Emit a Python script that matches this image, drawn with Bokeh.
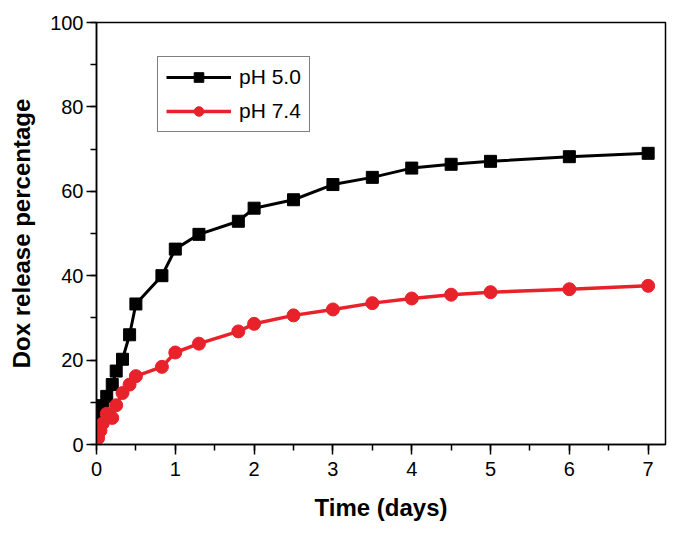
from bokeh.plotting import figure
from bokeh.models import Range1d, SingleIntervalTicker, Legend, LegendItem
from bokeh.embed import file_html
from bokeh.resources import INLINE

# Data
t_ph50 = [0.02, 0.08, 0.13, 0.2, 0.25, 0.33, 0.42, 0.5, 0.83, 1.0, 1.3, 1.8, 2.0, 2.5, 3.0, 3.5, 4.0, 4.5, 5.0, 6.0, 7.0]
y_ph50 = [7.4, 9.2, 11.4, 14.2, 17.4, 20.2, 26.0, 33.3, 40.0, 46.3, 49.8, 52.9, 56.0, 58.0, 61.6, 63.3, 65.5, 66.4, 67.1, 68.2, 69.0]
t_ph74 = [0.02, 0.05, 0.08, 0.13, 0.2, 0.25, 0.33, 0.42, 0.5, 0.83, 1.0, 1.3, 1.8, 2.0, 2.5, 3.0, 3.5, 4.0, 4.5, 5.0, 6.0, 7.0]
y_ph74 = [1.5, 3.3, 5.0, 7.3, 6.3, 9.3, 12.2, 14.2, 16.2, 18.4, 21.8, 23.9, 26.8, 28.6, 30.6, 32.0, 33.5, 34.6, 35.5, 36.1, 36.8, 37.6]
labels = ["pH 5.0", "pH 7.4"]

FONT = "Liberation Sans"
RED = "#e8222b"

p = figure(width=670, height=527, output_backend="svg", toolbar_location=None,
           x_range=Range1d(0, 7.22), y_range=Range1d(0, 100),
           min_border_left=96, min_border_right=5, min_border_top=22, min_border_bottom=83)

p.grid.visible = False
p.outline_line_color = "black"
p.outline_line_width = 1.5
p.background_fill_color = "white"
p.border_fill_color = "white"

p.xaxis.ticker = SingleIntervalTicker(interval=1, num_minor_ticks=2)
p.yaxis.ticker = SingleIntervalTicker(interval=20, num_minor_ticks=2)

for ax in (p.xaxis, p.yaxis):
    ax.axis_line_color = "black"
    ax.axis_line_width = 1.5
    ax.major_tick_line_color = "black"
    ax.major_tick_line_width = 1.5
    ax.minor_tick_line_color = "black"
    ax.minor_tick_line_width = 1.5
    ax.major_tick_in = 0
    ax.major_tick_out = 10
    ax.minor_tick_in = 0
    ax.minor_tick_out = 6
    ax.major_label_text_font = FONT
    ax.major_label_text_font_size = "20px"
    ax.major_label_text_color = "black"
    ax.axis_label_text_font = FONT
    ax.axis_label_text_font_size = "24px"
    ax.axis_label_text_font_style = "bold"
    ax.axis_label_text_color = "black"

p.xaxis.axis_label = "Time (days)"
p.yaxis.axis_label = "Dox release percentage"
p.xaxis.major_label_standoff = 7
p.yaxis.major_label_standoff = 3
p.xaxis.axis_label_standoff = 15
p.yaxis.axis_label_standoff = 12

l1 = p.line(t_ph50, y_ph50, line_color="black", line_width=3)
s1 = p.scatter(t_ph50, y_ph50, marker="square", size=12, fill_color="black", line_color="black")
l2 = p.line(t_ph74, y_ph74, line_color=RED, line_width=3.5)
s2 = p.scatter(t_ph74, y_ph74, marker="circle", size=13, fill_color=RED, line_color=RED)

legend = Legend(items=[LegendItem(label=labels[0], renderers=[l1, s1]),
                       LegendItem(label=labels[1], renderers=[l2, s2])],
                location=(61, 312))
legend.border_line_color = "black"
legend.border_line_width = 1.5
legend.background_fill_alpha = 1
legend.label_text_font = FONT
legend.label_text_font_size = "21px"
legend.label_text_color = "black"
legend.glyph_width = 65
legend.glyph_height = 24
legend.label_height = 24
legend.spacing = 10
legend.padding = 8
legend.margin = 0
legend.label_standoff = 8
p.add_layout(legend, "center")

open("out.html", "w").write(file_html(p, INLINE))
